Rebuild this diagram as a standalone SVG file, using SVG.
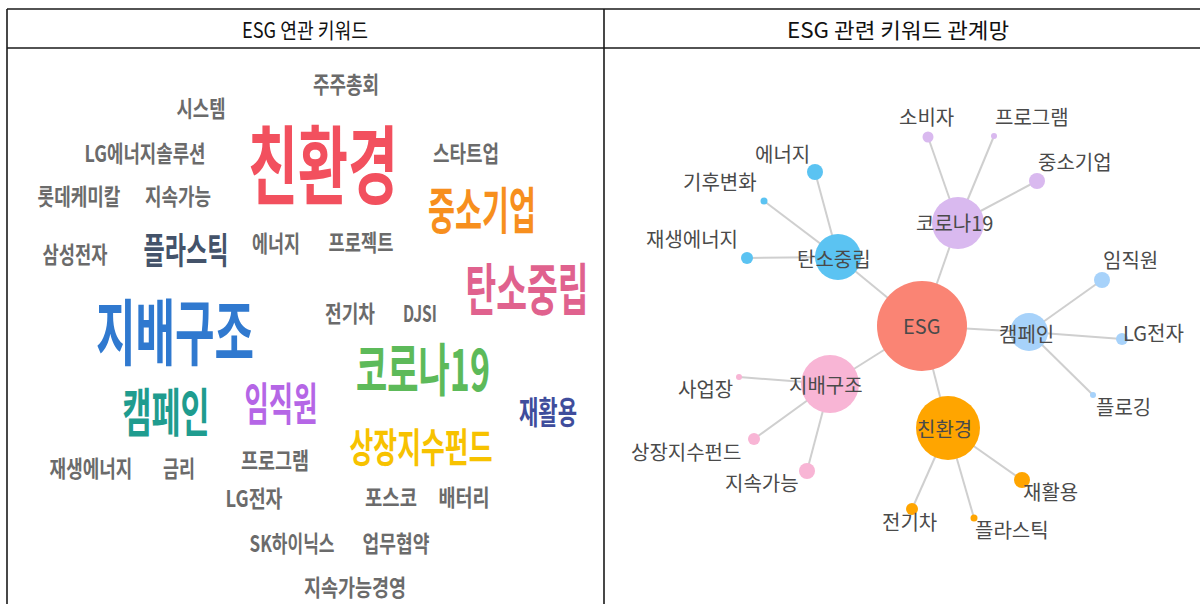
<svg xmlns="http://www.w3.org/2000/svg" width="1200" height="604" viewBox="0 0 1200 604">
<style>
.hdr{font-family:"Noto Sans CJK KR","Noto Sans",sans-serif;font-size:21px;fill:#111;text-anchor:middle}
.wc{font-family:"Noto Sans CJK KR","Noto Sans",sans-serif;font-weight:bold;text-anchor:middle}
.g{fill:#6b6b6b;font-size:23px;font-weight:600}
.lbl{font-family:"Noto Sans CJK KR","Noto Sans",sans-serif;font-size:20px;fill:#4a4a4a}
.e{stroke:#cfcfcf;stroke-width:2;fill:none}
.tb{stroke:#1a1a1a;stroke-width:1.6;fill:none}
</style>
<rect width="1200" height="604" fill="#fff"/>
<g id="table">
<line class="tb" x1="7" y1="9" x2="1200" y2="9"/>
<line class="tb" x1="7" y1="48" x2="1200" y2="48"/>
<line class="tb" x1="7" y1="9" x2="7" y2="604"/>
<line class="tb" x1="604" y1="9" x2="604" y2="604"/>
<text class="hdr" transform="translate(305,38) scale(0.84,1)" textLength="150" lengthAdjust="spacingAndGlyphs">ESG 연관 키워드</text>
<text class="hdr" x="898" y="38" textLength="222" lengthAdjust="spacingAndGlyphs">ESG 관련 키워드 관계망</text>
</g>
<g id="wordcloud">
<text class="wc g" transform="translate(346,93) scale(0.72,1)" textLength="91.7" lengthAdjust="spacingAndGlyphs">주주총회</text>
<text class="wc g" transform="translate(201,117) scale(0.72,1)" textLength="68" lengthAdjust="spacingAndGlyphs">시스템</text>
<text class="wc" transform="translate(323,198) scale(0.581,1)" font-size="86" fill="#f2505e" textLength="258" lengthAdjust="spacingAndGlyphs">친환경</text>
<text class="wc g" transform="translate(145,162) scale(0.72,1)" textLength="168" lengthAdjust="spacingAndGlyphs">LG에너지솔루션</text>
<text class="wc g" transform="translate(466,162) scale(0.72,1)" textLength="91.7" lengthAdjust="spacingAndGlyphs">스타트업</text>
<text class="wc g" transform="translate(79,205) scale(0.72,1)" textLength="115" lengthAdjust="spacingAndGlyphs">롯데케미칼</text>
<text class="wc g" transform="translate(178,205) scale(0.72,1)" textLength="91.7" lengthAdjust="spacingAndGlyphs">지속가능</text>
<text class="wc" transform="translate(482,229) scale(0.54,1)" font-size="50" fill="#f78f1e" textLength="200" lengthAdjust="spacingAndGlyphs">중소기업</text>
<text class="wc g" transform="translate(75,263) scale(0.72,1)" textLength="90" lengthAdjust="spacingAndGlyphs">삼성전자</text>
<text class="wc" transform="translate(186,264) scale(0.59,1)" font-size="36" fill="#44536a" textLength="144" lengthAdjust="spacingAndGlyphs">플라스틱</text>
<text class="wc g" transform="translate(276,252) scale(0.72,1)" textLength="66.7" lengthAdjust="spacingAndGlyphs">에너지</text>
<text class="wc g" transform="translate(361,251) scale(0.72,1)" textLength="90" lengthAdjust="spacingAndGlyphs">프로젝트</text>
<text class="wc" transform="translate(527,310) scale(0.549,1)" font-size="56" fill="#e0628e" textLength="224" lengthAdjust="spacingAndGlyphs">탄소중립</text>
<text class="wc" transform="translate(175,359) scale(0.549,1)" font-size="72" fill="#3079cf" textLength="288" lengthAdjust="spacingAndGlyphs">지배구조</text>
<text class="wc g" transform="translate(350,322) scale(0.72,1)" textLength="69.4" lengthAdjust="spacingAndGlyphs">전기차</text>
<text class="wc g" transform="translate(420,322) scale(0.72,1)" textLength="47.2" lengthAdjust="spacingAndGlyphs">DJSI</text>
<text class="wc" transform="translate(423,391) scale(0.573,1)" font-size="57" fill="#5dba5a" textLength="233.7" lengthAdjust="spacingAndGlyphs">코로나19</text>
<text class="wc" transform="translate(166,432) scale(0.558,1)" font-size="52" fill="#1f9c8f" textLength="156" lengthAdjust="spacingAndGlyphs">캠페인</text>
<text class="wc" transform="translate(281,421) scale(0.541,1)" font-size="45" fill="#b566e6" textLength="135" lengthAdjust="spacingAndGlyphs">임직원</text>
<text class="wc" transform="translate(548,424) scale(0.604,1)" font-size="32" fill="#3f4d9c" textLength="96" lengthAdjust="spacingAndGlyphs">재활용</text>
<text class="wc" transform="translate(421,462) scale(0.596,1)" font-size="40" fill="#f7c200" textLength="240" lengthAdjust="spacingAndGlyphs">상장지수펀드</text>
<text class="wc g" transform="translate(91,477) scale(0.72,1)" textLength="115" lengthAdjust="spacingAndGlyphs">재생에너지</text>
<text class="wc g" transform="translate(179,477) scale(0.72,1)" textLength="44.4" lengthAdjust="spacingAndGlyphs">금리</text>
<text class="wc g" transform="translate(275,469) scale(0.72,1)" textLength="94.4" lengthAdjust="spacingAndGlyphs">프로그램</text>
<text class="wc g" transform="translate(254,507) scale(0.72,1)" textLength="79" lengthAdjust="spacingAndGlyphs">LG전자</text>
<text class="wc g" transform="translate(391,506) scale(0.72,1)" textLength="72" lengthAdjust="spacingAndGlyphs">포스코</text>
<text class="wc g" transform="translate(464,506) scale(0.72,1)" textLength="71" lengthAdjust="spacingAndGlyphs">배터리</text>
<text class="wc g" transform="translate(292,552) scale(0.72,1)" textLength="118" lengthAdjust="spacingAndGlyphs">SK하이닉스</text>
<text class="wc g" transform="translate(396,552) scale(0.72,1)" textLength="93" lengthAdjust="spacingAndGlyphs">업무협약</text>
<text class="wc g" transform="translate(355,596) scale(0.72,1)" textLength="142" lengthAdjust="spacingAndGlyphs">지속가능경영</text>
</g>
<g id="connectors">
<line class="e" x1="922" y1="326" x2="838" y2="257"/>
<line class="e" x1="922" y1="326" x2="958" y2="223"/>
<line class="e" x1="922" y1="326" x2="1029" y2="332"/>
<line class="e" x1="922" y1="326" x2="830" y2="384"/>
<line class="e" x1="922" y1="326" x2="948" y2="428"/>
<line class="e" x1="838" y1="257" x2="815" y2="172"/>
<line class="e" x1="838" y1="257" x2="764" y2="201"/>
<line class="e" x1="838" y1="257" x2="747" y2="258"/>
<line class="e" x1="958" y1="223" x2="928" y2="137"/>
<line class="e" x1="958" y1="223" x2="994" y2="136"/>
<line class="e" x1="958" y1="223" x2="1037" y2="181"/>
<line class="e" x1="1029" y1="332" x2="1102" y2="280"/>
<line class="e" x1="1029" y1="332" x2="1122" y2="339"/>
<line class="e" x1="1029" y1="332" x2="1093" y2="395"/>
<line class="e" x1="830" y1="384" x2="739" y2="377"/>
<line class="e" x1="830" y1="384" x2="754" y2="439"/>
<line class="e" x1="830" y1="384" x2="807" y2="471"/>
<line class="e" x1="948" y1="428" x2="1022" y2="480"/>
<line class="e" x1="948" y1="428" x2="912" y2="509"/>
<line class="e" x1="948" y1="428" x2="974" y2="518"/>
</g>
<g id="node-esg"><circle cx="922" cy="326" r="45" fill="#fa8474"/><text class="lbl" x="903" y="334">ESG</text></g>
<g id="node-tanso"><circle cx="838" cy="257" r="23" fill="#5bc3f2"/></g>
<g id="node-energy"><circle cx="815" cy="172" r="8" fill="#5bc3f2"/><text class="lbl" x="755" y="162">에너지</text></g>
<g id="node-climate"><circle cx="764" cy="201" r="3.5" fill="#5bc3f2"/><text class="lbl" x="683" y="190">기후변화</text></g>
<g id="node-renew"><circle cx="747" cy="258" r="6" fill="#5bc3f2"/><text class="lbl" x="646" y="247">재생에너지</text></g>
<g id="node-corona"><circle cx="958" cy="223" r="26" fill="#d9b9ef"/></g>
<g id="node-consumer"><circle cx="928" cy="137" r="5.5" fill="#d9b9ef"/><text class="lbl" x="899" y="125">소비자</text></g>
<g id="node-program"><circle cx="994" cy="136" r="3" fill="#d9b9ef"/><text class="lbl" x="995" y="125">프로그램</text></g>
<g id="node-sme"><circle cx="1037" cy="181" r="8" fill="#d9b9ef"/><text class="lbl" x="1038" y="170">중소기업</text></g>
<g id="node-campaign"><circle cx="1029" cy="332" r="19" fill="#a7d2fa"/></g>
<g id="node-staff"><circle cx="1102" cy="280" r="8" fill="#a7d2fa"/><text class="lbl" x="1103" y="268">임직원</text></g>
<g id="node-lg"><circle cx="1122" cy="339" r="6" fill="#a7d2fa"/><text class="lbl" x="1123" y="341">LG전자</text></g>
<g id="node-plogging"><circle cx="1093" cy="395" r="3" fill="#a7d2fa"/><text class="lbl" x="1096" y="415">플로깅</text></g>
<g id="node-gov"><circle cx="830" cy="384" r="29" fill="#f8b5d5"/></g>
<g id="node-site"><circle cx="739" cy="377" r="3" fill="#f8b5d5"/><text class="lbl" x="678" y="397">사업장</text></g>
<g id="node-etf"><circle cx="754" cy="439" r="6" fill="#f8b5d5"/><text class="lbl" x="631" y="460">상장지수펀드</text></g>
<g id="node-sustain"><circle cx="807" cy="471" r="8" fill="#f8b5d5"/><text class="lbl" x="725" y="491">지속가능</text></g>
<g id="node-eco"><circle cx="948" cy="428" r="32" fill="#ffa500"/></g>
<g id="node-recycle"><circle cx="1022" cy="480" r="8" fill="#ffa500"/><text class="lbl" x="1023" y="500">재활용</text></g>
<g id="node-ev"><circle cx="912" cy="509" r="6" fill="#ffa500"/><text class="lbl" x="882" y="530">전기차</text></g>
<g id="node-plastic"><circle cx="974" cy="518" r="3.5" fill="#ffa500"/><text class="lbl" x="975" y="538">플라스틱</text></g>
<g id="hub-labels">
<text class="lbl" x="797" y="267">탄소중립</text>
<text class="lbl" x="916" y="231">코로나19</text>
<text class="lbl" x="999" y="342">캠페인</text>
<text class="lbl" x="789" y="393">지배구조</text>
<text class="lbl" x="917" y="437">친환경</text>
</g>
</svg>
